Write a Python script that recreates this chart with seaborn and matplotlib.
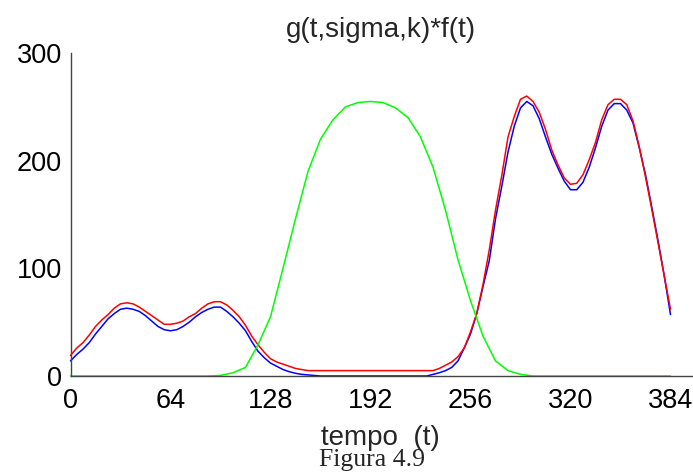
import numpy as np
import pandas as pd
import matplotlib
matplotlib.use('Agg')
import matplotlib.pyplot as plt
import seaborn as sns

# sample times (every 4 for the two filtered signals, every 8 for the kernel)
t_sig = np.arange(0, 385, 4)
t_ker = np.arange(0, 385, 8)

red = [19, 26, 31, 38, 46, 52, 57, 63,
       67, 68, 67, 64, 60, 56, 52, 48,
       48, 49, 51, 55, 58, 63, 67, 69,
       69, 66, 61, 55, 47, 37, 29, 22,
       16, 13, 11, 9, 7, 6, 5, 5,
       5, 5, 5, 5, 5, 5, 5, 5,
       5, 5, 5, 5, 5, 5, 5, 5,
       5, 5, 5, 7, 10, 13, 18, 26,
       41, 58, 85, 117, 154, 186, 222, 241,
       257, 260, 255, 245, 229, 210, 196, 184,
       178, 179, 187, 201, 217, 238, 252, 257,
       257, 252, 237, 213, 185, 155, 124, 93,
       62]

blue = [14, 20, 25, 31, 39, 46, 53, 58,
        62, 63, 62, 60, 56, 51, 46, 43,
        42, 43, 46, 50, 55, 59, 62, 64,
        64, 60, 55, 49, 42, 32, 23, 17,
        12, 9, 6, 4, 2.5, 1.5, 1, 0.5,
        0, 0, 0, 0, 0, 0, 0, 0,
        0, 0, 0, 0, 0, 0, 0, 0,
        0, 0, 1.5, 3, 5, 8, 14, 26,
        39, 58, 83, 107, 146, 176, 208, 232,
        249, 255, 251, 239, 222, 206, 193, 181,
        173, 173, 180, 194, 212, 232, 247, 253,
        253, 247, 235, 212, 187, 157, 126, 93,
        57]

green = [0, 0, 0, 0, 0, 0, 0, 0, 0, 0, 0, 0,
         0.5, 3, 8, 29, 55, 100, 146, 190, 220, 238, 250, 254,
         255, 254, 249, 240, 222, 194, 154, 108, 70, 37, 14, 5,
         1.5, 0, 0, 0, 0, 0, 0, 0, 0, 0, 0, 0, 0]

x_ticks = [0, 64, 128, 192, 256, 320, 384]
y_ticks = [0, 100, 200, 300]

sns.set_style('white')
plt.rcParams['font.family'] = ['Liberation Sans', 'DejaVu Sans']

W, H = 693, 472
fig = plt.figure(figsize=(W / 100, H / 100), dpi=100)
ax = fig.add_axes([70.5 / W, 96 / H, 625 / W, 323 / H])

sns.lineplot(x=t_sig, y=blue, color='#0000ff', linewidth=1.1, ax=ax, clip_on=False)
sns.lineplot(x=t_sig, y=red, color='#ff0000', linewidth=1.1, ax=ax, clip_on=False)
sns.lineplot(x=t_ker, y=green, color='#00ff00', linewidth=1.1, ax=ax, clip_on=False)

ax.set_xlim(0, 400)
ax.set_ylim(0, 300)
ax.set_xticks(x_ticks)
ax.set_yticks(y_ticks)
ax.tick_params(direction='in', length=5, width=1, color='#333333',
               labelsize=19.5, labelcolor='black')
ax.tick_params(axis='x', pad=9)
ax.tick_params(axis='y', pad=6)
for s in ['top', 'right']:
    ax.spines[s].set_visible(False)
for s in ['left', 'bottom']:
    ax.spines[s].set_color('#444444')
    ax.spines[s].set_linewidth(1)

fig.text(381 / W, 1 - 30 / H, 'g(t,sigma,k)*f(t)', ha='center', va='center', fontsize=20)
fig.text(380 / W, 1 - 438 / H, 'tempo  (t)', ha='center', va='center', fontsize=20)
fig.text(319 / W, 1 - 466 / H, 'Figura 4.9', ha='left', va='baseline', fontsize=18.5,
         family=['Liberation Serif', 'DejaVu Serif'])

fig.savefig('out.png', dpi=100)
